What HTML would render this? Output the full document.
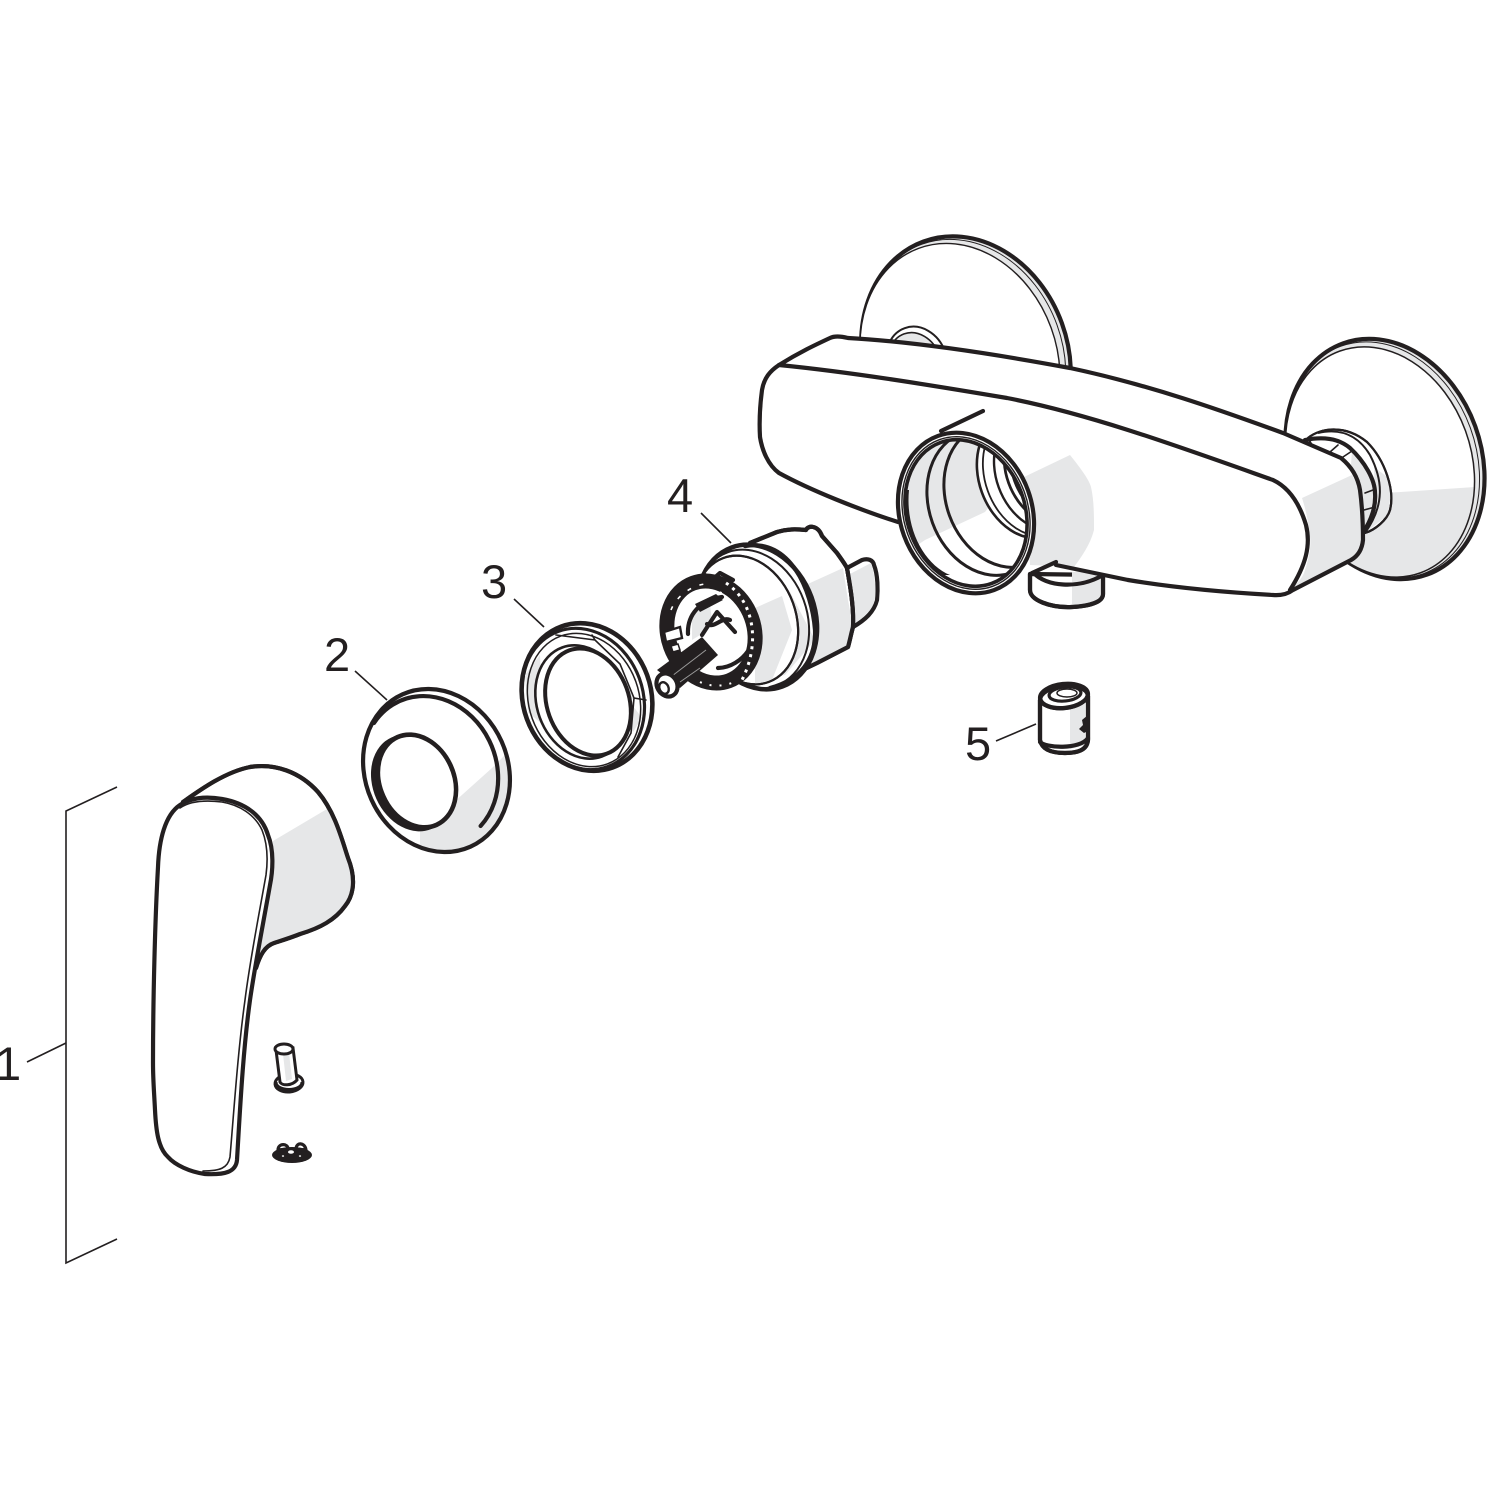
<!DOCTYPE html>
<html><head><meta charset="utf-8"><title>Shower mixer exploded view</title>
<style>
html,body{margin:0;padding:0;background:#fff}
svg{display:block}
text{font-family:"Liberation Sans",sans-serif;font-size:47px;fill:#231f20}
.k{fill:none;stroke:#231f20;stroke-width:4.2;stroke-linecap:round;stroke-linejoin:round}
.w{fill:#fff;stroke:#231f20;stroke-width:4.2;stroke-linejoin:round}
.t{fill:none;stroke:#231f20;stroke-width:1.6;stroke-linecap:round}
.g{fill:#e6e7e8;stroke:none}
.l{fill:none;stroke:#231f20;stroke-width:1.6}
</style></head><body>
<svg width="1500" height="1500" viewBox="0 0 1500 1500" xmlns="http://www.w3.org/2000/svg">
<defs>
<clipPath id="open"><ellipse cx="966" cy="513" rx="59" ry="75" transform="rotate(-20 966 513)"/></clipPath>
<clipPath id="rd"><ellipse cx="1380" cy="462" rx="91" ry="118" transform="rotate(-20 1380 462)"/></clipPath>
<clipPath id="r2"><ellipse cx="436.500" cy="770.500" rx="71.300" ry="83.400" transform="rotate(-24 436.500 770.500)"/></clipPath>
</defs>

<!-- back disc -->
<ellipse cx="966" cy="358" rx="102" ry="124" transform="rotate(-20 966 358)" class="g"/>
<ellipse cx="966" cy="358" rx="102" ry="124" transform="rotate(-20 966 358)" class="k" stroke-width="3.800"/>
<ellipse cx="960" cy="361" rx="97" ry="120" transform="rotate(-20 960 361)" fill="#fff" stroke="#231f20" stroke-width="1.400"/>
<ellipse cx="963" cy="359" rx="100" ry="122" transform="rotate(-20 963 359)" fill="none" stroke="#231f20" stroke-width="1"/>
<!-- back collar -->
<ellipse cx="917" cy="362" rx="30" ry="36" transform="rotate(-20 917 362)" fill="#fff" stroke="#231f20" stroke-width="2"/>
<ellipse cx="915" cy="364" rx="26" ry="32" transform="rotate(-20 915 364)" fill="#e6e7e8" stroke="#231f20" stroke-width="1.600"/>

<!-- right disc -->
<ellipse cx="1385" cy="459" rx="96" ry="123" transform="rotate(-20 1385 459)" class="g"/>
<ellipse cx="1385" cy="459" rx="96" ry="123" transform="rotate(-20 1385 459)" class="k" stroke-width="3.800"/>
<ellipse cx="1380" cy="462" rx="91" ry="118" transform="rotate(-20 1380 462)" fill="#fff"/>
<path class="g" clip-path="url(#rd)" d="M1385 493L1490 486L1490 590L1280 590L1340 500Z"/>
<ellipse cx="1380" cy="462" rx="91" ry="118" transform="rotate(-20 1380 462)" fill="none" stroke="#231f20" stroke-width="1.500"/>
<ellipse cx="1382" cy="460" rx="94" ry="121" transform="rotate(-20 1382 460)" fill="none" stroke="#231f20" stroke-width="1"/>
<!-- right collar -->
<path fill="#fff" stroke="#231f20" stroke-width="2.200" d="M1308 438C1320 428 1345 424 1367 442C1385 460 1395 490 1390 510C1387 520 1375 530 1365 533L1340 500Z"/>
<path class="g" d="M1374 467L1386 476L1391 492L1388 515L1365 533L1375 500Z"/>
<path class="g" d="M1352 450C1365 462 1375 480 1375 493C1376 505 1372 520 1363 532L1350 480Z"/>
<path fill="none" stroke="#231f20" stroke-width="2" d="M1318 433C1340 428 1358 435 1370 455C1383 480 1385 505 1365 533"/>
<path fill="none" stroke="#231f20" stroke-width="2.200" d="M1308 438C1320 428 1345 424 1367 442C1385 460 1395 490 1390 510C1387 520 1375 530 1365 533"/>
<path class="k" stroke-width="3.800" d="M1305 440C1320 437 1337 437 1350 448C1365 462 1375 480 1375 493C1376 505 1372 520 1363 532"/>
<path class="t" stroke-width="2" d="M1330 452L1338 445M1343 457L1352 451M1365 493L1373 490M1364 510L1375 507"/>

<!-- nozzle -->
<path class="w" d="M1030 574L1030 590C1030 600 1050 608 1072 607C1090 606 1103 602 1103 594L1103 575Z"/>
<path class="g" d="M1072 572L1101 572L1101 594C1101 600 1090 604 1072 605Z"/>
<path class="k" stroke-width="3.600" d="M1030 574L1030 590C1030 600 1050 608 1072 607C1090 606 1103 602 1103 594L1103 575"/>
<path class="k" stroke-width="3" d="M1034 573C1045 586 1078 590 1103 575"/>

<!-- body -->
<path fill="#fff" d="M779 365C800 352 815 345 830 338Q836 335 848 338C920 342 1000 355 1070 368C1150 385 1220 410 1283 433L1341 458C1352 467 1358 478 1360 490C1362 505 1363 525 1363 540C1362 550 1358 556 1351 560L1293 590Q1285 596 1273 595C1220 592 1170 587 1128 580L1050 565L898 522L779 473C768 465 762 450 760 437C759 420 760 405 762 390C764 378 770 371 779 365Z"/>
<path class="g" d="M1024 477L1070 455C1082 470 1089 480 1091 487C1094 500 1094 515 1094 530C1090 545 1082 556 1074 567L1030 565Z"/>
<path class="g" d="M1302 498L1352 475L1360 490C1362 505 1363 525 1363 540C1362 550 1358 556 1351 560L1287 592C1296 585 1303 578 1305 570C1310 555 1311 545 1310 537C1309 525 1306 510 1302 498Z"/>
<path class="k" d="M1128 580C1170 587 1220 592 1273 595Q1285 596 1293 590L1351 560C1358 556 1362 550 1363 540C1363 525 1362 505 1360 490C1358 478 1352 467 1341 458L1283 433C1220 410 1150 385 1070 368C1000 355 920 342 848 338Q836 335 830 338C815 345 800 352 779 365C770 371 764 378 762 390C760 405 759 420 760 437C762 450 768 465 779 473C810 490 860 510 898 522M1128 580L1056 565"/>
<path class="k" stroke-width="2.600" d="M779 365C850 372 930 385 1007 398C1090 414 1180 447 1273 480C1290 488 1300 505 1306 525C1311 545 1306 565 1290 590"/>
<path class="k" d="M941 431L983 411"/>

<!-- body opening -->
<ellipse cx="966" cy="513" rx="66" ry="82" transform="rotate(-20 966 513)" class="w"/>
<ellipse cx="966" cy="513" rx="62" ry="78" transform="rotate(-20 966 513)" fill="#fff" stroke="#231f20" stroke-width="1.400"/>
<ellipse cx="966" cy="513" rx="59" ry="75" transform="rotate(-20 966 513)" fill="#fff"/>
<g clip-path="url(#open)">
<path class="g" d="M895 430L1050 430L985 512L925 540L895 560Z"/>
<ellipse cx="987" cy="503" rx="58" ry="74" transform="rotate(-20 987 503)" fill="none" stroke="#231f20" stroke-width="3"/>
<ellipse cx="1003" cy="496" rx="57" ry="73" transform="rotate(-20 1003 496)" fill="none" stroke="#231f20" stroke-width="3"/>
<ellipse cx="1027" cy="476" rx="48" ry="64" transform="rotate(-20 1027 476)" fill="#fff" stroke="#231f20" stroke-width="2.600"/>
<ellipse cx="1032" cy="475" rx="47" ry="63" transform="rotate(-20 1032 475)" fill="none" stroke="#231f20" stroke-width="1.800"/>
<ellipse cx="1041" cy="472" rx="45" ry="60" transform="rotate(-20 1041 472)" fill="none" stroke="#231f20" stroke-width="2.400"/>
<ellipse cx="1050" cy="468" rx="44" ry="58" transform="rotate(-20 1050 468)" fill="none" stroke="#231f20" stroke-width="2.800"/>
<ellipse cx="1056" cy="466" rx="44" ry="58" transform="rotate(-20 1056 466)" fill="none" stroke="#231f20" stroke-width="2.800"/>
<path d="M909 490C905 530 925 565 950 575L940 575C915 560 900 525 904 490Z" fill="#231f20"/>
</g>
<ellipse cx="966" cy="513" rx="59" ry="75" transform="rotate(-20 966 513)" fill="none" stroke="#231f20" stroke-width="3.600"/>
<path class="k" stroke-width="3" d="M1032 573L1056 562"/>

<!-- cartridge -->
<path class="w" d="M750 543L777 532C787 529 795 529 806 530C808 525 818 525 822 536L837 553C842 560 845 564 847 568C851 590 854 610 853 627C851 634 850 640 848 647L817 663L767 687L730 660Z"/>
<path class="g" d="M755 608L843 568L848 600L853 627L848 647L817 663L790 675L770 640Z"/>
<path class="w" stroke-width="3.400" d="M847 568L862 560C868 558 873 560 874 565C878 575 878 590 877 600C874 612 865 620 853 627C854 610 851 590 847 568Z"/>
<path class="g" d="M850 574L871 563C875 575 876 590 875 600C872 610 865 617 855 623C856 605 853 590 850 574Z"/>
<path class="k" stroke-width="3.400" d="M750 543L777 532C787 529 795 529 806 530C808 525 818 525 822 536L837 553C842 560 845 564 847 568C851 590 854 610 853 627C851 634 850 640 848 647L817 663L767 687"/>
<ellipse cx="757" cy="617" rx="58" ry="74" transform="rotate(-20 757 617)" fill="#fff" stroke="#231f20" stroke-width="4.500"/>
<path class="g" d="M755 608L790 592L815 640L785 675L760 680Z"/>
<path class="k" stroke-width="8" stroke-linecap="butt" d="M745 546C790 538 812 590 815 630C816 660 800 680 770 688"/>
<ellipse cx="752" cy="619" rx="55" ry="71" transform="rotate(-20 752 619)" fill="none" stroke="#231f20" stroke-width="2"/>
<ellipse cx="746" cy="620" rx="50" ry="66" transform="rotate(-20 746 620)" fill="#fff" stroke="#231f20" stroke-width="2.200"/>
<path class="g" d="M755 608L782 596L792 630L772 680L755 684Z"/>
<ellipse cx="746" cy="620" rx="50" ry="66" transform="rotate(-20 746 620)" fill="none" stroke="#231f20" stroke-width="2.200"/>
<!-- toothed ring -->
<ellipse cx="711" cy="632" rx="43" ry="52" transform="rotate(-20 711 632)" fill="#fff" stroke="#231f20" stroke-width="15"/>
<path d="M726 583C752 600 762 640 742 680" fill="none" stroke="#fff" stroke-width="3" stroke-dasharray="3 5"/>
<path d="M720 592C742 608 748 645 732 672" fill="none" stroke="#fff" stroke-width="2" stroke-dasharray="2 6"/>
<path d="M700 682C712 688 728 686 738 680" fill="none" stroke="#fff" stroke-width="2" stroke-dasharray="2 8"/>
<path d="M671 610C676 597 690 586 705 584" fill="none" stroke="#fff" stroke-width="1.600" stroke-dasharray="4 9"/>
<path class="k" stroke-width="4.500" d="M690 585L700 577L712 580L720 573L733 580"/>
<path class="k" stroke-width="6" d="M665 618C670 595 685 580 705 575"/>
<path d="M664 632L680 627L682 638L666 642Z" fill="#fff" stroke="#231f20" stroke-width="2.400"/>
<path d="M671 646L678 644L680 650L673 652Z" fill="#fff" stroke="#231f20" stroke-width="1.500"/>
<!-- inner -->
<path class="g" d="M692 612L710 605L712 620L700 635L692 640Z"/>
<path class="k" stroke-width="5" d="M688 634C687 615 700 600 722 597"/>
<path d="M695 604L716 594L723 600L700 612Z" fill="#231f20"/>
<path class="k" stroke-width="2" d="M702 635L717 612L735 632"/>
<path class="k" stroke-width="3.500" d="M707 624C715 629 722 616 730 620"/>
<path class="k" stroke-width="5" d="M718 668C730 668 742 660 748 651"/>
<!-- stem -->
<path d="M702 637L718 655L680 688L657 670Z" fill="#231f20"/>
<path d="M672 676L706 650M680 682L700 668" stroke="#9a9a9a" stroke-width="1" fill="none"/>
<ellipse cx="667" cy="685" rx="10" ry="12" transform="rotate(-30 667 685)" fill="#fff" stroke="#231f20" stroke-width="4.200"/>
<ellipse cx="664" cy="688" rx="4.500" ry="6" transform="rotate(-25 664 688)" fill="#fff" stroke="#231f20" stroke-width="2.400"/>

<!-- ring 3 -->
<ellipse cx="587" cy="697" rx="64" ry="75" transform="rotate(-20 587 697)" fill="#fff" stroke="#231f20" stroke-width="4.600"/>
<path class="g" d="M616 664L634 698L628 702L613 668Z"/>
<path class="g" d="M630 702L642 718L633 732L628 725Z"/>
<path class="t" d="M556 635L595 640L620 664L634 698L631 733L618 757M595 640L592 635M634 698L646 700"/>
<ellipse cx="583" cy="699" rx="60" ry="72" transform="rotate(-20 583 699)" fill="none" stroke="#231f20" stroke-width="3.200"/>
<path class="g" d="M525 675L540 655L543 725L528 712Z"/>
<ellipse cx="584" cy="700" rx="55" ry="68" transform="rotate(-20 584 700)" fill="none" stroke="#231f20" stroke-width="1.500"/>
<ellipse cx="582" cy="702" rx="45" ry="58" transform="rotate(-20 582 702)" fill="#fff" stroke="#231f20" stroke-width="2.600"/>
<ellipse cx="588" cy="702" rx="41" ry="55" transform="rotate(-20 588 702)" fill="#fff" stroke="#231f20" stroke-width="4"/>

<!-- ring 2 -->
<ellipse cx="436.500" cy="770.500" rx="71.300" ry="83.400" transform="rotate(-24 436.500 770.500)" fill="#fff"/>
<path class="g" clip-path="url(#r2)" d="M492 768L453 803L420 830L420 860L520 860L520 740Z"/>
<ellipse cx="436.500" cy="770.500" rx="71.300" ry="83.400" transform="rotate(-24 436.500 770.500)" class="k" stroke-width="4.600"/>
<path class="k" stroke-width="3" d="M374 723A66 76 -24 1 1 480.600 826"/>
<ellipse cx="412" cy="783" rx="39" ry="50" transform="rotate(-24 412 783)" fill="#231f20"/>
<ellipse cx="417" cy="781" rx="37" ry="48" transform="rotate(-24 417 781)" fill="#fff" stroke="#231f20" stroke-width="4.600"/>

<!-- handle -->
<path class="w" d="M183 802C200 790 225 772 250 767C275 763 300 772 318 792C335 812 342 840 348 858C356 878 354 895 345 906C335 920 320 928 300 934C290 938 280 941 274 943C265 946 260 955 256 968L240 900Z"/>
<path class="g" d="M273 841L327 809C335 822 342 840 348 858C356 878 354 895 345 906C335 920 320 928 300 934C290 938 280 941 274 943C265 946 260 955 256 968L270 880Z"/>
<path class="k" d="M183 802C200 790 225 772 250 767C275 763 300 772 318 792C335 812 342 840 348 858C356 878 354 895 345 906C335 920 320 928 300 934C290 938 280 941 274 943C265 946 260 955 256 968"/>
<path class="w" d="M153 1063C153 1000 155 920 158 867C159 840 165 815 180 805C190 798 205 796 222 799C245 803 262 815 268 835C274 850 273 870 270 885C262 930 255 965 250 1000C243 1050 240 1110 237 1160C236 1172 225 1175 205 1174C190 1172 175 1165 168 1157C158 1148 156 1130 155 1110C154 1090 153 1080 153 1063Z"/>
<path class="t" stroke-width="2" d="M180 808C190 801 205 800 222 802C240 805 255 815 262 830C268 845 268 860 266 875C258 920 250 960 245 1000C238 1050 234 1110 230 1157C228 1168 220 1171 203 1171"/>

<!-- screw -->
<ellipse cx="289" cy="1083" rx="14" ry="9" fill="#fff" stroke="#231f20" stroke-width="3" transform="rotate(-5 289 1083)"/>
<path d="M276 1082C276 1092 302 1092 302 1082" fill="none" stroke="#231f20" stroke-width="3"/>
<path d="M276 1050L293 1048L297 1080C292 1086 282 1086 280 1082Z" fill="#fff" stroke="#231f20" stroke-width="3"/>
<path class="g" d="M283 1054L289 1053L292 1079L286 1081Z"/>
<ellipse cx="284" cy="1049" rx="9" ry="5" fill="#fff" stroke="#231f20" stroke-width="3"/>

<!-- nut -->
<ellipse cx="292" cy="1155" rx="20" ry="8" fill="#231f20"/>
<path d="M278 1150C278 1143 288 1143 288 1149ZM296 1149C296 1142 305 1142 306 1150Z" fill="none" stroke="#231f20" stroke-width="3.200"/>
<ellipse cx="291" cy="1152" rx="3" ry="1.800" fill="#fff"/><ellipse cx="283" cy="1156" rx="1.200" ry="0.800" fill="#fff"/><ellipse cx="300" cy="1156" rx="1.200" ry="0.800" fill="#fff"/>

<!-- part 5 -->
<path class="w" d="M1040 700L1040 740C1042 750 1052 753 1065 753C1078 753 1087 750 1088 740L1088 696Z"/>
<path class="g" d="M1070 708L1085 704L1085 745L1070 749Z"/>
<path class="k" d="M1040 700L1040 740C1042 750 1052 753 1065 753C1078 753 1087 750 1088 740L1088 696"/>
<path class="k" stroke-width="2.600" d="M1040 742C1045 748 1080 750 1088 738"/>
<path d="M1088 715L1082 720L1083 725L1079 729L1084 733L1088 731Z" fill="#231f20"/>
<ellipse cx="1064" cy="696" rx="24" ry="12" transform="rotate(-6 1064 696)" fill="#fff" stroke="#231f20" stroke-width="4.400"/>
<ellipse cx="1064" cy="698" rx="23" ry="11" transform="rotate(-6 1064 698)" fill="none" stroke="#231f20" stroke-width="2.200"/>
<ellipse cx="1065" cy="694" rx="16" ry="7" transform="rotate(-6 1065 694)" fill="#fff" stroke="#231f20" stroke-width="3.200"/>
<ellipse cx="1067" cy="693" rx="10" ry="4" fill="#fff" stroke="#231f20" stroke-width="1.500"/>

<!-- bracket and leaders -->
<path class="l" d="M117 787L66 811L66 1263L117 1239"/>
<path class="l" d="M27 1062L66 1043"/>
<path class="l" d="M355 671L387 700"/>
<path class="l" d="M514 599L544 627"/>
<path class="l" d="M701 513L731 543"/>
<path class="l" d="M996 741L1036 724"/>

<text x="-5" y="1080">1</text>
<text x="324" y="671">2</text>
<text x="481" y="598">3</text>
<text x="667" y="512">4</text>
<text x="965" y="760">5</text>
</svg>
</body></html>
